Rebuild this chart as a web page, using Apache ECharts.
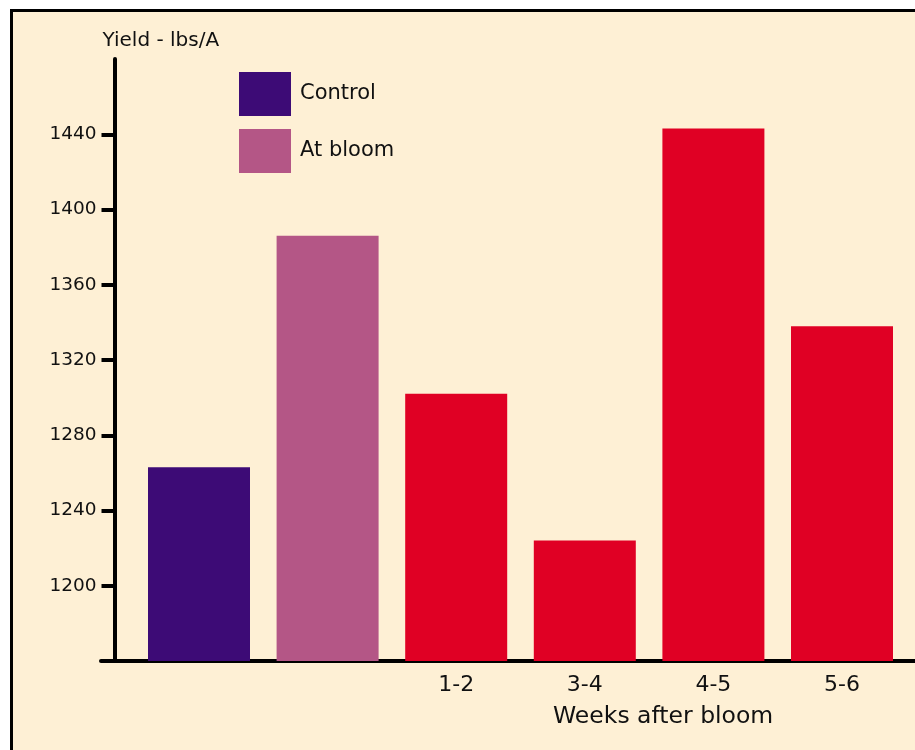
<!DOCTYPE html>
<html>
<head>
<meta charset="utf-8">
<script src="https://cdn.jsdelivr.net/npm/echarts@6/dist/echarts.min.js"></script>
<style>
  html, body { margin: 0; padding: 0; background: #ffffff; }
  #wrap { position: relative; width: 915px; height: 750px; overflow: hidden; background: #ffffff; }
  #frame { position: absolute; left: 10px; top: 9px; width: 1000px; height: 1000px;
           border: 3px solid #000; background: #fef0d5; }
  #chart { position: absolute; left: 0; top: 0; width: 915px; height: 750px; }
</style>
</head>
<body>
<div id="wrap">
  <div id="frame"></div>
  <div id="chart"></div>
</div>
<script>
// ---- data ----
const categories = ['Control', 'At bloom', '1-2', '3-4', '4-5', '5-6'];
const shownLabels = ['', '', '1-2', '3-4', '4-5', '5-6'];
const controlValues = [1263, '-', '-', '-', '-', '-'];
const bloomValues = ['-', 1386, '-', '-', '-', '-'];
const weeksValues = ['-', '-', 1302, 1224, 1443, 1338];
const yTicks = [1200, 1240, 1280, 1320, 1360, 1400, 1440];
const yMin = 1160, yMax = 1480, yStep = 40;

const FONT = 'DejaVu Sans';
const TXT = '#111111';

const chart = echarts.init(document.getElementById('chart'), null, { renderer: 'canvas' });
chart.setOption({
  backgroundColor: 'transparent',
  animation: false,
  title: {
    text: 'Weeks after bloom',
    left: 548, top: 700,
    textStyle: { fontFamily: FONT, fontSize: 23.5, fontWeight: 'normal', color: TXT }
  },
  legend: {
    data: ['Control', 'At bloom'],
    orient: 'vertical',
    left: 239, top: 72, padding: 0,
    itemWidth: 52, itemHeight: 44, itemGap: 13,
    icon: 'rect',
    textStyle: { fontFamily: FONT, fontSize: 21, color: TXT, padding: [0, 0, 0, 4] },
    selectedMode: false
  },
  grid: [
    { left: 134.7, right: 8.7, top: 59, bottom: 89 },
    { left: 101, right: 0, top: 59, bottom: 89 }
  ],
  xAxis: [
    {
      type: 'category', gridIndex: 0, data: categories,
      axisLine: { show: false }, axisTick: { show: false },
      axisLabel: {
        margin: 13, fontFamily: FONT, fontSize: 22, color: TXT,
        formatter: (v, i) => shownLabels[i]
      }
    },
    {
      type: 'value', gridIndex: 1, min: 0, max: 1,
      axisLine: { show: true, lineStyle: { color: '#000', width: 4 } },
      axisTick: { show: false }, axisLabel: { show: false }, splitLine: { show: false }
    }
  ],
  yAxis: [
    {
      type: 'value', gridIndex: 0, min: yMin, max: yMax, interval: yStep,
      offset: 20.2,
      name: 'Yield - lbs/A', nameLocation: 'end', nameGap: 8,
      nameTextStyle: { fontFamily: FONT, fontSize: 20, color: TXT, align: 'left', padding: [0, 0, 0, -12] },
      axisLine: { show: true, lineStyle: { color: '#000', width: 4 } },
      axisTick: { show: true, inside: false, length: 13, lineStyle: { color: '#000', width: 4 }, customValues: yTicks },
      axisLabel: { margin: 18, fontFamily: FONT, fontSize: 18.5, color: TXT, customValues: yTicks,
        formatter: v => String(v) },
      splitLine: { show: false }
    },
    { type: 'value', gridIndex: 1, min: 0, max: 1, show: false }
  ],
  series: [
    { name: 'Control', type: 'bar', xAxisIndex: 0, yAxisIndex: 0, data: controlValues,
      barWidth: 102, barGap: '-100%', itemStyle: { color: '#3d0b76' } },
    { name: 'At bloom', type: 'bar', xAxisIndex: 0, yAxisIndex: 0, data: bloomValues,
      barWidth: 102, barGap: '-100%', itemStyle: { color: '#b45686' } },
    { name: 'Weeks after bloom', type: 'bar', xAxisIndex: 0, yAxisIndex: 0, data: weeksValues,
      barWidth: 102, barGap: '-100%', itemStyle: { color: '#e00024' } }
  ]
});
</script>
</body>
</html>
